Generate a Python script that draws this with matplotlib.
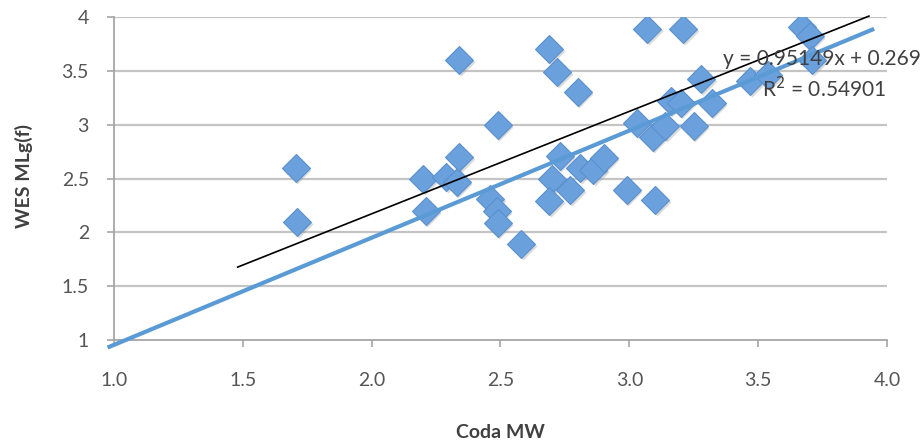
import matplotlib
matplotlib.use("Agg")
import matplotlib.pyplot as plt
from matplotlib.transforms import offset_copy

# scatter data: Coda MW vs WES MLg(f)
coda_mw = [1.705, 1.712, 2.20, 2.21, 2.29, 2.33, 2.34, 2.34, 2.46, 2.485,
           2.49, 2.49, 2.58, 2.69, 2.72, 2.80, 2.70, 2.69, 2.73, 2.77,
           2.81, 2.86, 2.90, 2.99, 3.03, 3.07, 3.09, 3.10, 3.14, 3.16,
           3.20, 3.21, 3.25, 3.28, 3.32, 3.47, 3.54, 3.67, 3.70, 3.71]
wes_mlg = [2.60, 2.10, 2.50, 2.20, 2.51, 2.47, 2.70, 3.60, 2.31, 2.20,
           2.09, 3.00, 1.89, 3.70, 3.49, 3.30, 2.50, 2.29, 2.71, 2.39,
           2.60, 2.58, 2.69, 2.39, 3.02, 3.89, 2.89, 2.30, 2.99, 3.22,
           3.20, 3.89, 2.99, 3.42, 3.20, 3.41, 3.46, 3.91, 3.82, 3.60]

# reference (blue) line end points
ref_x = [0.975, 3.95]
ref_y = [0.93, 3.89]

# linear trendline as printed on the chart
trend_slope = 0.95149
trend_icpt = 0.269
trend_r2 = 0.54901
trend_x = [1.48, 3.93]

x_ticks = [1.0, 1.5, 2.0, 2.5, 3.0, 3.5, 4.0]
y_ticks = [1, 1.5, 2, 2.5, 3, 3.5, 4]
y_tick_labels = ['1', '1.5', '2', '2.5', '3', '3.5', '4']

plt.rcParams['font.family'] = ['Lato', 'DejaVu Sans']

fig = plt.figure(figsize=(9.24, 4.47), dpi=100)
ax = fig.add_axes([114 / 924, 1 - 340 / 447, (887 - 114) / 924, (340 - 17) / 447])

ax.set_xlim(1.0, 4.0)
ax.set_ylim(1, 4)

# grid lines like the excel chart
for yv in y_ticks[1:]:
    ax.axhline(yv, color='#c4c4c4', lw=1.6, zorder=1)

# markers with a soft shadow
shadow = offset_copy(ax.transData, fig=fig, x=1.5, y=-2.0, units='dots')
ax.plot(coda_mw, wes_mlg, 'D', ms=14, color='#9a9a9a', alpha=0.35,
        mec='none', transform=shadow, zorder=2)
ax.plot(coda_mw, wes_mlg, 'D', ms=14, mfc='#6aa0dc', mec='#5a90cf',
        mew=0.8, zorder=3, linestyle='none')

# blue reference line
ax.plot(ref_x, ref_y, color='#5b9bd5', lw=3.0, solid_capstyle='butt',
        zorder=4, clip_on=False)

# trendline
trend_y = [trend_slope * xv + trend_icpt for xv in trend_x]
ax.plot(trend_x, trend_y, color='black', lw=1.2, zorder=5, clip_on=False)

ax.text(921 / 924, 1 - 59 / 447, 'y = %.5fx + %.3f' % (trend_slope, trend_icpt),
        transform=fig.transFigure, ha='right', va='center', fontsize=15,
        color='#404040', zorder=6)
ax.text(886 / 924, 1 - 89 / 447, 'R$^2$ = %.5f' % trend_r2,
        transform=fig.transFigure, ha='right', va='center', fontsize=15,
        color='#404040', zorder=6)

for side in ['top', 'right']:
    ax.spines[side].set_visible(False)
for side in ['left', 'bottom']:
    ax.spines[side].set_color('#a6a6a6')
    ax.spines[side].set_linewidth(1.3)

ax.set_xticks(x_ticks)
ax.set_xticklabels(['%.1f' % v for v in x_ticks])
ax.set_yticks(y_ticks)
ax.set_yticklabels(y_tick_labels)
ax.tick_params(axis='x', direction='out', length=5, width=1.2, color='#a6a6a6',
               labelsize=14, labelcolor='#555555', pad=18)
ax.tick_params(axis='y', direction='out', length=5, width=1.2, color='#a6a6a6',
               labelsize=14, labelcolor='#555555', pad=13)

fig.text(500 / 924, 1 - 432 / 447, 'Coda MW', ha='center', va='center',
         fontsize=14, fontweight='bold', color='#404040')
fig.text(24 / 924, 1 - 176 / 447, 'WES MLg(f)', ha='center', va='center',
         rotation=90, fontsize=14, fontweight='bold', color='#404040')

fig.savefig('out.png', dpi=100)
